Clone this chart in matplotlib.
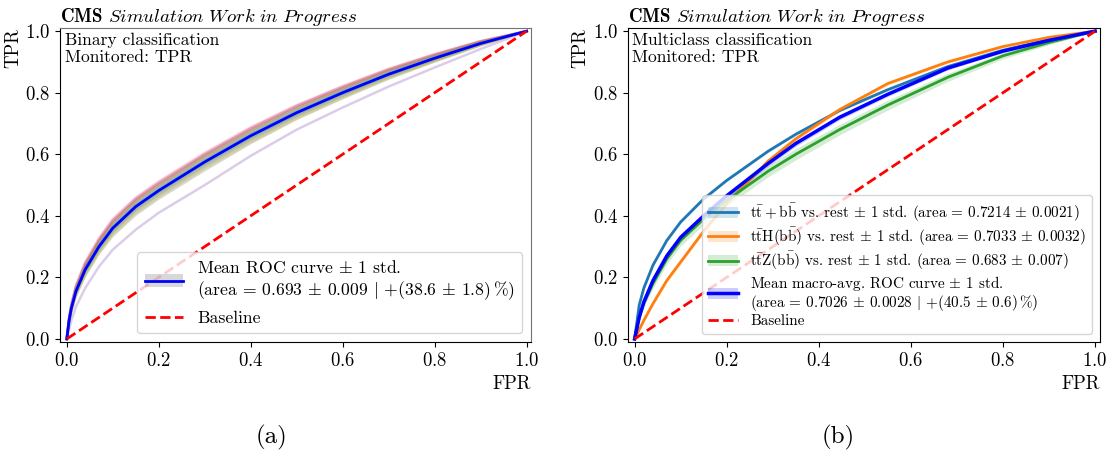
import matplotlib
matplotlib.use("Agg")
import matplotlib.pyplot as plt
import numpy as np
from matplotlib.lines import Line2D
from matplotlib.patches import Patch

plt.rcParams['font.family'] = 'serif'
plt.rcParams['font.serif'] = ['cmr10']
plt.rcParams['mathtext.fontset'] = 'cm'
plt.rcParams['axes.formatter.use_mathtext'] = True
plt.rcParams['axes.unicode_minus'] = False

# (a) binary classification: ROC of the individual folds + mean
fpr_bin = [0, 0.005, 0.01, 0.02, 0.04, 0.07, 0.1, 0.15, 0.2, 0.3, 0.4, 0.5, 0.6, 0.7, 0.8, 0.9, 1.0]
tpr_bin_mean = [0, .06, .10, .155, .225, .30, .36, .43, .482, .575, .66, .735, .80, .86, .912, .96, 1]
fold_colors = ['tab:pink', 'tab:red', 'tab:brown', 'tab:orange', 'tab:cyan',
               'tab:blue', 'tab:green', 'tab:gray', 'tab:olive', 'tab:purple']
tpr_folds = [
    [0, .07, .115, .175, .25, .328, .39, .46, .512, .605, .688, .76, .822, .878, .926, .968, 1],
    [0, .068, .112, .171, .245, .323, .385, .455, .507, .6, .684, .757, .819, .876, .924, .967, 1],
    [0, .066, .109, .167, .24, .317, .378, .448, .50, .593, .677, .751, .814, .872, .921, .966, 1],
    [0, .064, .106, .163, .235, .311, .372, .442, .494, .587, .671, .745, .81, .868, .918, .964, 1],
    [0, .063, .104, .16, .232, .307, .368, .438, .49, .583, .668, .742, .807, .866, .917, .963, 1],
    [0, .061, .101, .157, .228, .303, .363, .433, .485, .578, .663, .738, .803, .862, .914, .961, 1],
    [0, .058, .097, .151, .22, .295, .355, .425, .477, .57, .655, .73, .796, .857, .909, .958, 1],
    [0, .055, .093, .146, .214, .288, .348, .418, .47, .563, .648, .724, .79, .852, .905, .956, 1],
    [0, .052, .089, .141, .207, .281, .34, .41, .462, .555, .64, .717, .784, .847, .902, .954, 1],
    [0, .03, .06, .105, .165, .235, .29, .355, .41, .50, .595, .68, .752, .82, .882, .942, 1],
]

# (b) multiclass classification
fpr_multi = [0, 0.01, 0.02, 0.04, 0.07, 0.1, 0.15, 0.2, 0.29, 0.35, 0.445, 0.55, 0.68, 0.8, 0.9, 1.0]
tpr_ttbb = [0, 0.11, 0.165, 0.24, 0.32, 0.38, 0.455, 0.515, 0.61, 0.665, 0.742, 0.81, 0.885, 0.938, 0.972, 1.0]
std_ttbb = [0, .004, .004, .004, .004, .004, .004, .004, .004, .004, .004, .004, .003, .003, .002, 0]
tpr_tth = [0, 0.03, 0.06, 0.115, 0.19, 0.25, 0.35, 0.44, 0.578, 0.65, 0.745, 0.83, 0.90, 0.95, 0.98, 1.0]
std_tth = [0, .004, .005, .006, .007, .007, .007, .007, .007, .007, .007, .006, .005, .004, .003, 0]
tpr_ttz = [0, 0.07, 0.115, 0.18, 0.26, 0.32, 0.39, 0.45, 0.545, 0.60, 0.68, 0.76, 0.85, 0.92, 0.963, 1.0]
std_ttz = [0, .01, .012, .015, .017, .018, .018, .018, .018, .018, .017, .016, .013, .01, .007, 0]
tpr_macro = [0, 0.07, 0.12, 0.19, 0.27, 0.33, 0.40, 0.465, 0.57, 0.635, 0.72, 0.795, 0.88, 0.935, 0.97, 1.0]
std_macro = [0, .007, .008, .009, .01, .01, .01, .01, .009, .009, .008, .007, .006, .004, .003, 0]

labels_multi = [
    r'$\mathrm{t\bar{t}+b\bar{b}}$ vs. rest $\pm$ 1 std. (area = 0.7214 $\pm$ 0.0021)',
    r'$\mathrm{t\bar{t}H(b\bar{b})}$ vs. rest $\pm$ 1 std. (area = 0.7033 $\pm$ 0.0032)',
    r'$\mathrm{t\bar{t}Z(b\bar{b})}$ vs. rest $\pm$ 1 std. (area = 0.683 $\pm$ 0.007)',
]
label_macro = ('Mean macro-avg. ROC curve $\\pm$ 1 std.\n'
               '(area = 0.7026 $\\pm$ 0.0028 $|$ $+$(40.5 $\\pm$ 0.6)$\\,$%)')
label_bin = ('Mean ROC curve $\\pm$ 1 std.\n'
             '(area = 0.693 $\\pm$ 0.009 $|$ $+$(38.6 $\\pm$ 1.8)$\\,$%)')

fig = plt.figure(figsize=(11.09, 4.53), dpi=100)
ax1 = fig.add_axes([0.054, 0.245, 0.425, 0.693])
ax2 = fig.add_axes([0.566, 0.245, 0.4256, 0.693])


def style_axes(ax, text):
    ax.set_xlim(-0.015, 1.01)
    ax.set_ylim(-0.01, 1.01)
    ax.set_xticks([0, 0.2, 0.4, 0.6, 0.8, 1.0])
    ax.set_yticks([0, 0.2, 0.4, 0.6, 0.8, 1.0])
    ax.tick_params(labelsize=13.5)
    ax.set_xlabel('FPR', loc='right', fontsize=13.5)
    ax.set_ylabel('TPR', loc='top', fontsize=13.5, labelpad=2)
    ax.set_title(r'$\mathbf{CMS}$ $\mathit{Simulation\ Work\ in\ Progress}$',
                 loc='left', fontsize=13.6, pad=4)
    ax.text(0.01, 0.985, text, transform=ax.transAxes, va='top', ha='left',
            fontsize=12.6, linespacing=1.1)


# ---- (a)
fpr_bin = np.array(fpr_bin)
folds = np.array(tpr_folds)
std_bin = folds.std(axis=0)
mean_bin = np.array(tpr_bin_mean)
for tpr, c in zip(folds, fold_colors):
    ax1.plot(fpr_bin, tpr, color=c, alpha=0.33, lw=1.8)
ax1.fill_between(fpr_bin, mean_bin - std_bin, mean_bin + std_bin, color='grey', alpha=0.3, lw=0)
ax1.plot(fpr_bin, mean_bin, color='blue', lw=2)
ax1.plot([0, 1], [0, 1], color='red', ls='--', lw=2)
style_axes(ax1, 'Binary classification\nMonitored: TPR')
for s in ['top', 'right']:
    ax1.spines[s].set_color('0.45')
h_bin = (Patch(facecolor='grey', alpha=0.3), Line2D([], [], color='blue', lw=2))
h_base = Line2D([], [], color='red', ls='--', lw=2)
ax1.legend([h_bin, h_base], [label_bin, 'Baseline'], loc='lower right', fontsize=12.7,
           handlelength=2.2)

# ---- (b)
fpr_multi = np.array(fpr_multi)
for tpr, sd, c in [(tpr_ttbb, std_ttbb, 'tab:blue'), (tpr_tth, std_tth, 'tab:orange'),
                   (tpr_ttz, std_ttz, 'tab:green'), (tpr_macro, std_macro, 'blue')]:
    tpr = np.array(tpr)
    sd = np.array(sd)
    ax2.fill_between(fpr_multi, tpr - sd, tpr + sd, color=c, alpha=0.2, lw=0)
handles = []
for tpr, c in [(tpr_ttbb, 'tab:blue'), (tpr_tth, 'tab:orange'), (tpr_ttz, 'tab:green')]:
    ax2.plot(fpr_multi, tpr, color=c, lw=2)
    handles.append((Patch(facecolor=c, alpha=0.2), Line2D([], [], color=c, lw=2)))
ax2.plot(fpr_multi, tpr_macro, color='blue', lw=2.5)
handles.append((Patch(facecolor='blue', alpha=0.2), Line2D([], [], color='blue', lw=2.5)))
ax2.plot([0, 1], [0, 1], color='red', ls='--', lw=2)
handles.append(Line2D([], [], color='red', ls='--', lw=2))
style_axes(ax2, 'Multiclass classification\nMonitored: TPR')
leg = ax2.legend(handles, labels_multi + [label_macro, 'Baseline'], loc='lower right',
                 fontsize=10.9, handlelength=2.0, labelspacing=0.12)
for t in leg.get_texts():
    t.set_linespacing(1.0)

fig.text(0.245, 0.035, '(a)', ha='center', va='center', fontsize=18)
fig.text(0.756, 0.035, '(b)', ha='center', va='center', fontsize=18)

fig.savefig('out.png', dpi=100)
